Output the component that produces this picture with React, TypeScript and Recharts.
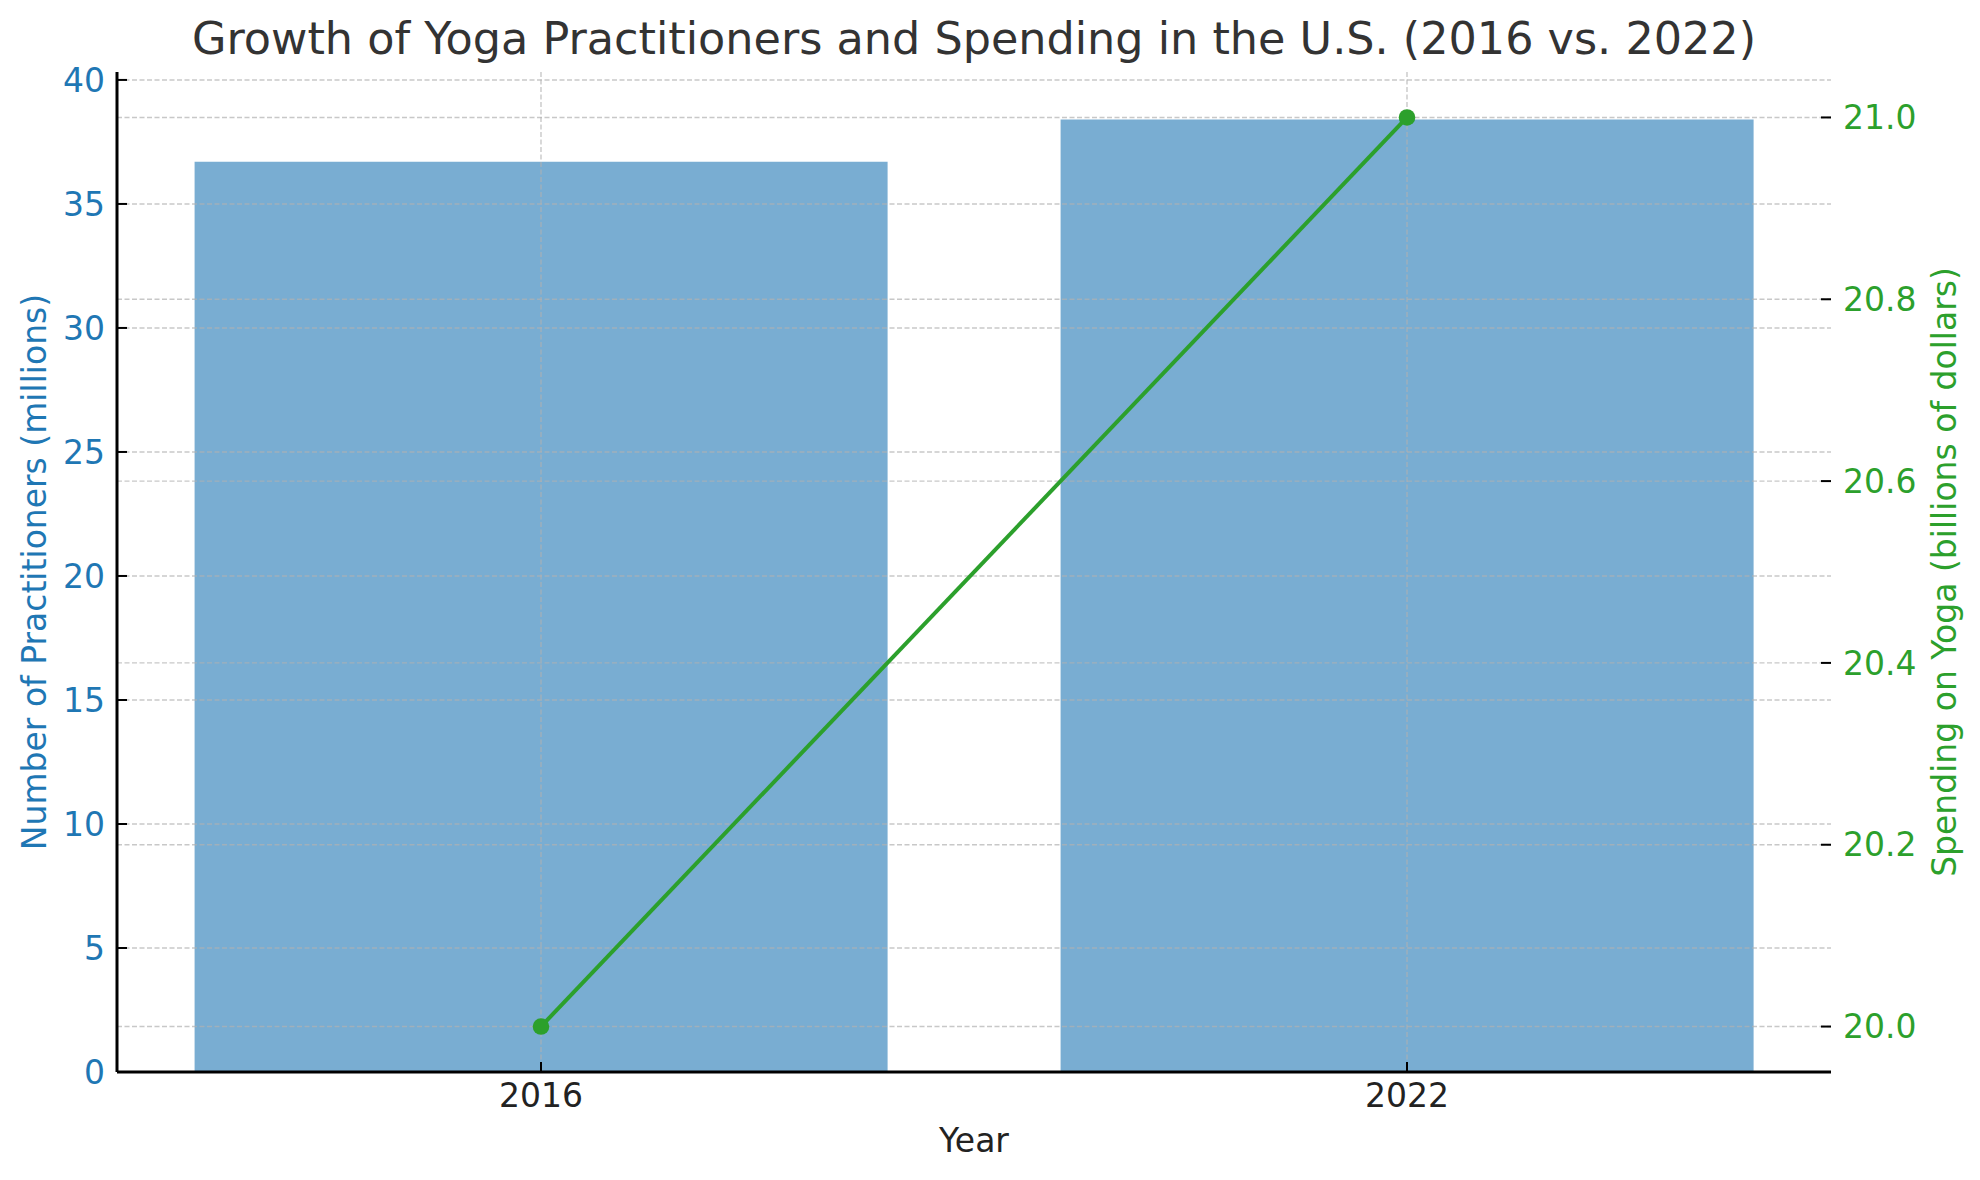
import React from "react";
import {
  ComposedChart,
  Bar,
  Line,
  XAxis,
  YAxis,
  CartesianGrid,
} from "recharts";

const years = ["2016", "2022"];
const practitioners = [36.7, 38.4];
const spending = [20.0, 21.0];
const leftTicks = [0, 5, 10, 15, 20, 25, 30, 35, 40];
const rightTicks = [20.0, 20.2, 20.4, 20.6, 20.8, 21.0];

const data = years.map((year, i) => ({
  year,
  practitioners: practitioners[i],
  spending: spending[i],
}));

const FONT = "'DejaVu Sans', sans-serif";
const BLUE = "#1f77b4";
const GREEN = "#2ca02c";

export default function App() {
  return (
    <div style={{ position: "absolute", left: 0, top: 0, width: 1980, height: 1180, background: "#fff", fontFamily: FONT }}>
      <div
        style={{
          position: "absolute",
          left: 117,
          top: 17,
          width: 1714,
          textAlign: "center",
          fontSize: 44.5,
          lineHeight: "44px",
          color: "#333333",
          whiteSpace: "nowrap",
        }}
      >
        Growth of Yoga Practitioners and Spending in the U.S. (2016 vs. 2022)
      </div>
      <ComposedChart
        width={1980}
        height={1180}
        data={data}
        margin={{ top: 72, right: 19, bottom: 18, left: 17 }}
        barCategoryGap="10%"
        style={{ fontFamily: FONT }}
      >
        <XAxis
          dataKey="year"
          height={90}
          padding={{ left: -9, right: -9 }}
          interval={0}
          axisLine={{ stroke: "#000", strokeWidth: 3 }}
          tickLine={{ stroke: "#000", strokeWidth: 2 }}
          tickSize={-10}
          tickMargin={22}
          tick={{ fill: "#222", fontSize: 33, fontFamily: FONT }}
          label={{ value: "Year", position: "insideBottom", offset: 10, fill: "#222", fontSize: 33, fontFamily: FONT }}
        />
        <YAxis
          yAxisId="left"
          width={100}
          domain={[0, 40.32]}
          ticks={leftTicks}
          interval={0}
          axisLine={{ stroke: "#000", strokeWidth: 3 }}
          tickLine={{ stroke: "#000", strokeWidth: 2 }}
          tickSize={-10}
          tickMargin={22}
          tick={{ fill: BLUE, fontSize: 33, fontFamily: FONT }}
          label={{
            value: "Number of Practitioners (millions)",
            angle: -90,
            position: "insideLeft",
            offset: 17,
            fill: BLUE,
            fontSize: 33,
            fontFamily: FONT,
            style: { textAnchor: "middle" },
          }}
        />
        <YAxis
          yAxisId="right"
          orientation="right"
          width={130}
          domain={[19.95, 21.05]}
          ticks={rightTicks}
          interval={0}
          axisLine={false}
          tickLine={{ stroke: "#000", strokeWidth: 2 }}
          tickSize={-10}
          tickMargin={22}
          tickFormatter={(v: number) => v.toFixed(1)}
          tick={{ fill: GREEN, fontSize: 33, fontFamily: FONT }}
          label={{
            value: "Spending on Yoga (billions of dollars)",
            angle: -90,
            position: "insideRight",
            offset: 17,
            fill: GREEN,
            fontSize: 33,
            fontFamily: FONT,
            style: { textAnchor: "middle" },
          }}
        />
        <Bar
          yAxisId="left"
          dataKey="practitioners"
          fill={BLUE}
          fillOpacity={0.6}
          isAnimationActive={false}
        />
        <CartesianGrid
          yAxisId="left"
          syncWithTicks
          stroke="#b0b0b0"
          strokeOpacity={0.7}
          strokeWidth={1.4}
          strokeDasharray="5 2.5"
          zIndex={350}
        />
        <CartesianGrid
          yAxisId="right"
          syncWithTicks
          vertical={false}
          stroke="#b0b0b0"
          strokeOpacity={0.7}
          strokeWidth={1.4}
          strokeDasharray="5 2.5"
          zIndex={350}
        />
        <Line
          yAxisId="right"
          dataKey="spending"
          stroke={GREEN}
          strokeWidth={4}
          dot={{ r: 8.3, fill: GREEN, stroke: GREEN, strokeWidth: 0 }}
          activeDot={false}
          isAnimationActive={false}
        />
      </ComposedChart>
    </div>
  );
}
